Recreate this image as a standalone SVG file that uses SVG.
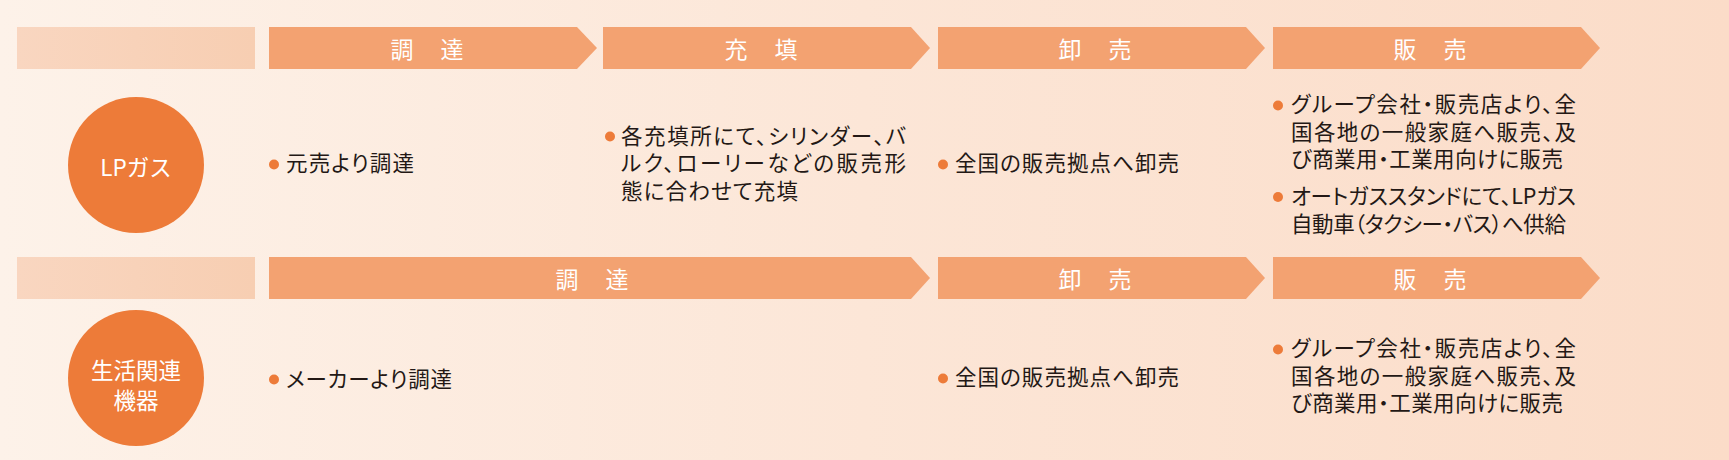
<svg xmlns="http://www.w3.org/2000/svg" width="1729" height="460" viewBox="0 0 1729 460">
<defs>
<linearGradient id="bg" x1="0" y1="0" x2="1" y2="0">
<stop offset="0" stop-color="#fdf2e9"/>
<stop offset="0.5" stop-color="#fce6d7"/>
<stop offset="1" stop-color="#fbdcc8"/>
</linearGradient>
<linearGradient id="lbar" x1="0" y1="0" x2="1" y2="0">
<stop offset="0" stop-color="#f9d6c0"/>
<stop offset="1" stop-color="#f7ceb2"/>
</linearGradient>
<style>
.lbar{fill:url(#lbar)}
.arr{fill:#f3a271}
.hd{font-family:"Noto Sans CJK JP","Noto Sans",sans-serif;font-size:23px;fill:#ffffff;text-anchor:middle;letter-spacing:2px}
.circ{fill:#ed7b39}
.ct{font-family:"Noto Sans CJK JP","Noto Sans",sans-serif;font-size:22.5px;fill:#ffffff;text-anchor:middle}
.tx{font-family:"Noto Sans CJK JP","Noto Sans",sans-serif;font-size:21.5px;fill:#231815;font-feature-settings:"palt"}
.dot{fill:#ed7b39}
</style>
</defs>
<rect x="0" y="0" width="1729" height="460" fill="url(#bg)"/>

<g id="row1-header">
<rect class="lbar" x="17" y="27" width="238" height="42"/>
<g id="h1-chotatsu"><path class="arr" d="M269,27H577L597,48L577,69H269Z"/><text class="hd" x="428" y="58">調　達</text></g>
<g id="h1-juten"><path class="arr" d="M603,27H911L930,48L911,69H603Z"/><text class="hd" x="762" y="58">充　填</text></g>
<g id="h1-oroshi"><path class="arr" d="M938,27H1246L1265,48L1246,69H938Z"/><text class="hd" x="1096" y="58">卸　売</text></g>
<g id="h1-hanbai"><path class="arr" d="M1273,27H1581L1600,48L1581,69H1273Z"/><text class="hd" x="1431" y="58">販　売</text></g>
</g>

<g id="lpgas">
<circle class="circ" cx="136" cy="165" r="68"/>
<text class="ct" x="136" y="176">LPガス</text>
</g>

<g id="lp-chotatsu">
<circle class="dot" cx="274" cy="164.5" r="5"/>
<text class="tx" x="286" y="171" textLength="128" lengthAdjust="spacing">元売より調達</text>
</g>
<g id="lp-juten">
<circle class="dot" cx="610" cy="136.5" r="5"/>
<text class="tx" x="621" y="143.5" textLength="285" lengthAdjust="spacing">各充填所にて、シリンダー、バ</text>
<text class="tx" x="621" y="171" textLength="285" lengthAdjust="spacing">ルク、ローリーなどの販売形</text>
<text class="tx" x="621" y="198.5" textLength="177" lengthAdjust="spacing">態に合わせて充填</text>
</g>
<g id="lp-oroshi">
<circle class="dot" cx="943" cy="164.5" r="5"/>
<text class="tx" x="955" y="171" textLength="224" lengthAdjust="spacing">全国の販売拠点へ卸売</text>
</g>
<g id="lp-hanbai">
<circle class="dot" cx="1278" cy="105.5" r="5"/>
<text class="tx" x="1291" y="112" textLength="285" lengthAdjust="spacing">グループ会社・販売店より、全</text>
<text class="tx" x="1291" y="140" textLength="285" lengthAdjust="spacing">国各地の一般家庭へ販売、及</text>
<text class="tx" x="1291" y="167" textLength="272" lengthAdjust="spacing">び商業用・工業用向けに販売</text>
<circle class="dot" cx="1278" cy="197" r="5"/>
<text class="tx" x="1291" y="203.5" textLength="285" lengthAdjust="spacing">オートガススタンドにて、LPガス</text>
<text class="tx" x="1291" y="231.5" textLength="275" lengthAdjust="spacing">自動車（タクシー・バス）へ供給</text>
</g>

<g id="row2-header">
<rect class="lbar" x="17" y="257" width="238" height="42"/>
<g id="h2-chotatsu"><path class="arr" d="M269,257H911L930,278L911,299H269Z"/><text class="hd" x="593" y="288">調　達</text></g>
<g id="h2-oroshi"><path class="arr" d="M938,257H1246L1265,278L1246,299H938Z"/><text class="hd" x="1096" y="288">卸　売</text></g>
<g id="h2-hanbai"><path class="arr" d="M1273,257H1581L1600,278L1581,299H1273Z"/><text class="hd" x="1431" y="288">販　売</text></g>
</g>

<g id="seikatsu">
<circle class="circ" cx="136" cy="378" r="68"/>
<text class="ct" x="136" y="378.5">生活関連</text>
<text class="ct" x="136" y="408.5">機器</text>
</g>

<g id="sk-chotatsu">
<circle class="dot" cx="274" cy="379.5" r="5"/>
<text class="tx" x="286" y="386.5" textLength="166" lengthAdjust="spacing">メーカーより調達</text>
</g>
<g id="sk-oroshi">
<circle class="dot" cx="943" cy="378.5" r="5"/>
<text class="tx" x="955" y="385" textLength="224" lengthAdjust="spacing">全国の販売拠点へ卸売</text>
</g>
<g id="sk-hanbai">
<circle class="dot" cx="1278" cy="349.5" r="5"/>
<text class="tx" x="1291" y="356" textLength="285" lengthAdjust="spacing">グループ会社・販売店より、全</text>
<text class="tx" x="1291" y="383.5" textLength="285" lengthAdjust="spacing">国各地の一般家庭へ販売、及</text>
<text class="tx" x="1291" y="411" textLength="272" lengthAdjust="spacing">び商業用・工業用向けに販売</text>
</g>

<g id="connectors"/>
</svg>
